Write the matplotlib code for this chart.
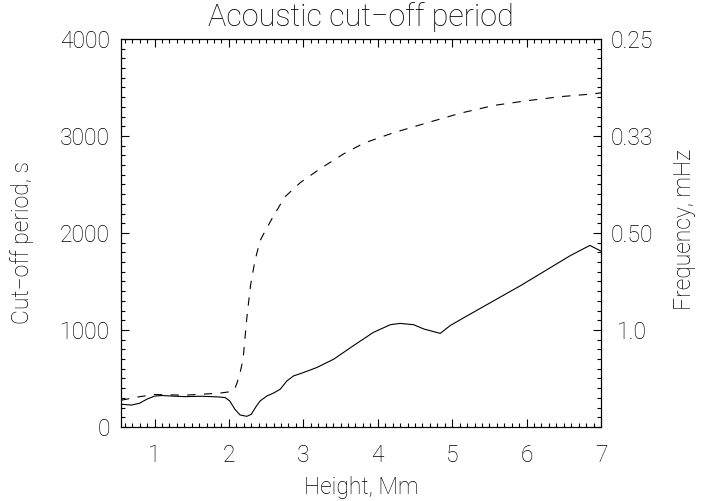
import matplotlib
matplotlib.use("Agg")
import matplotlib.pyplot as plt
from matplotlib.ticker import MultipleLocator

plt.rcParams['font.family'] = ['Roboto', 'DejaVu Sans']
plt.rcParams['font.weight'] = 'light'
plt.rcParams['axes.titleweight'] = 'light'
plt.rcParams['axes.labelweight'] = 'light'

# Cut-off period (solid)
height_solid = [0.55, 0.69, 0.80, 0.90, 1.0, 1.1, 1.2, 1.41, 1.63, 1.86,
                1.95, 2.01, 2.08, 2.15, 2.24, 2.30, 2.37, 2.42, 2.51, 2.60,
                2.69, 2.78, 2.87, 3.00, 3.18, 3.41, 3.67, 3.94, 4.17, 4.30,
                4.48, 4.62, 4.84, 4.97, 5.15, 5.92, 6.59, 6.85, 7.0]
period_solid = [235, 226, 245, 288, 318, 325, 320, 313, 317, 310,
                303, 269, 183, 124, 110, 131, 217, 269, 320, 350,
                390, 476, 527, 561, 613, 700, 837, 975, 1055, 1068,
                1055, 1010, 965, 1044, 1124, 1458, 1768, 1872, 1813]

# Second period curve (dashed)
height_dash = [0.55, 0.78, 1.0, 1.41, 1.86, 2.03, 2.08, 2.11, 2.15, 2.19,
               2.24, 2.29, 2.35, 2.42, 2.48, 2.58, 2.75, 2.96, 3.23, 3.54,
               3.81, 4.03, 4.21, 4.66, 5.11, 5.56, 6.01, 6.45, 6.88, 7.0]
period_dash = [276, 310, 335, 328, 348, 365, 395, 458, 560, 700,
               1120, 1460, 1716, 1923, 2010, 2150, 2371, 2520, 2665, 2815,
               2925, 2985, 3033, 3135, 3235, 3315, 3364, 3405, 3433, 3445]

period_ticks = [0, 1000, 2000, 3000, 4000]
freq_labels = ['', '1.0', '0.50', '0.33', '0.25']

fig = plt.figure(figsize=(7.09, 5.01), dpi=100)
ax = fig.add_axes([0.1707, 0.1477, 0.677, 0.7745])

ax.plot(height_solid, period_solid, color='black', linewidth=0.8)
ax.plot(height_dash, period_dash, color='black', linewidth=0.8,
        linestyle=(0, (7.5, 7.5)))

ax.set_xlim(0.55, 7.0)
ax.set_ylim(0, 4000)
ax.xaxis.set_major_locator(MultipleLocator(1))
ax.xaxis.set_minor_locator(MultipleLocator(0.1))
ax.set_yticks(period_ticks)
ax.yaxis.set_minor_locator(MultipleLocator(100))

ax.tick_params(which='both', direction='in', top=True, width=0.8,
               labelsize=16.5, colors='black')
ax.tick_params(which='major', length=6)
ax.tick_params(which='minor', length=3)
ax.tick_params(axis='x', pad=12)
ax.tick_params(axis='y', pad=8)
for s in ax.spines.values():
    s.set_linewidth(0.8)

ax2 = ax.twinx()
ax2.set_ylim(0, 4000)
ax2.set_yticks(period_ticks)
ax2.set_yticklabels(freq_labels)
ax2.yaxis.set_minor_locator(MultipleLocator(100))
ax2.tick_params(which='both', direction='in', width=0.8, labelsize=16.5,
                pad=22)
ax2.tick_params(which='major', length=6)
ax2.tick_params(which='minor', length=3)
for lbl in ax2.get_yticklabels():
    lbl.set_horizontalalignment('center')

ax.set_title('Acoustic cut\u2212off period', fontsize=22, pad=9)
ax.set_xlabel('Height, Mm', fontsize=16.5, labelpad=7)
fig.text(22 / 709, 1 - 243 / 501, 'Cut\u2212off period, s', rotation=90,
         ha='center', va='center', fontsize=16.5)
fig.text(684 / 709, 1 - 229 / 501, 'Frequency, mHz', rotation=90,
         ha='center', va='center', fontsize=16.5)

fig.savefig('out.png', dpi=100)
